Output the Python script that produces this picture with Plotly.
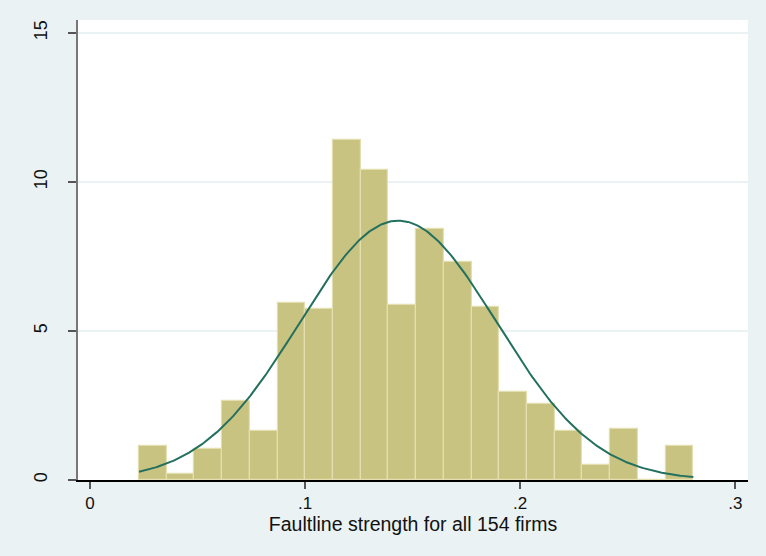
import numpy as np
import plotly.graph_objects as go

# Histogram bins (density scale)
bin_start = 0.0228
bin_width = 0.012884
bar_heights = [1.15, 0.20, 1.03, 2.65, 1.63, 5.93, 5.74, 11.40, 10.40, 5.87,
               8.42, 7.30, 5.80, 2.96, 2.54, 1.64, 0.51, 1.71, 0.0, 1.15]

# Normal density overlay parameters
norm_mean = 0.1433
norm_sd = 0.04586

x_tickvals = [0, 0.1, 0.2, 0.3]
x_ticktext = ["0", ".1", ".2", ".3"]
y_tickvals = [0, 5, 10, 15]
y_ticktext = ["0", "5", "10", "15"]
x_title = "Faultline strength for all 154 firms"

centers = [bin_start + bin_width * (i + 0.5) for i in range(len(bar_heights))]
bin_end = bin_start + bin_width * len(bar_heights)

xs = np.linspace(bin_start, bin_end, 300)
ys = np.exp(-0.5 * ((xs - norm_mean) / norm_sd) ** 2) / (norm_sd * np.sqrt(2 * np.pi))

bg = "#EAF2F3"
fig = go.Figure()
fig.add_trace(go.Bar(
    x=centers, y=bar_heights, width=bin_width,
    marker=dict(color="#C9C381", line=dict(color="#E3DFB0", width=1.2)),
    showlegend=False, hoverinfo="skip"
))
fig.add_trace(go.Scatter(
    x=xs, y=ys, mode="lines",
    line=dict(color="#24705F", width=2),
    showlegend=False, hoverinfo="skip"
))

fam = "Liberation Sans, Arial, sans-serif"
tick_font = dict(family=fam, size=17, color="#111111")
ytick_font = dict(family=fam, size=18, color="#111111")
title_font = dict(family=fam, size=19.5, color="#111111")
fig.update_layout(
    width=766, height=556,
    margin=dict(l=78, r=18, t=20, b=76),
    paper_bgcolor=bg, plot_bgcolor="white",
    font=tick_font,
    bargap=0,
    xaxis=dict(
        range=[-0.00558, 0.3059],
        tickvals=x_tickvals, ticktext=x_ticktext,
        ticks="outside", ticklen=7, tickcolor="#555555", tickwidth=1.5,
        showline=True, linecolor="#000000", linewidth=1.5,
        showgrid=False, zeroline=False,
        title=dict(text=x_title, standoff=2, font=title_font),
        tickfont=tick_font,
    ),
    yaxis=dict(
        range=[0, 15.43],
        tickvals=y_tickvals, ticktext=y_ticktext,
        tickangle=-90,
        ticks="outside", ticklen=8, tickcolor="#555555", tickwidth=1.5,
        showline=True, linecolor="#777777", linewidth=2,
        showgrid=True, gridcolor="#EAF2F3", gridwidth=1.5,
        zeroline=False,
        ticklabelstandoff=14,
        tickfont=ytick_font,
    ),
)

fig.write_html("out.html")
